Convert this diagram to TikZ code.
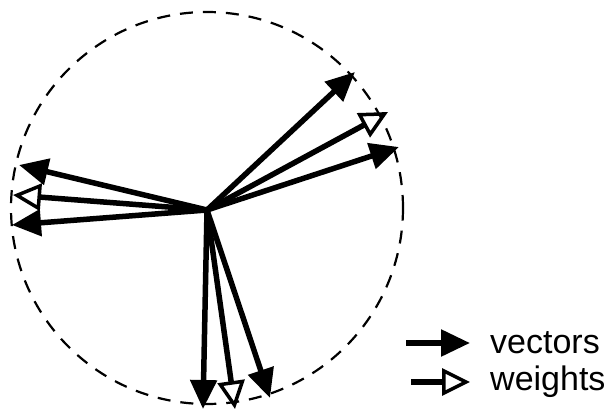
\documentclass[tikz,border=0pt]{standalone}
\usepackage{fontspec}
\setmainfont{Liberation Sans}
\usepackage{tikz}
\usetikzlibrary{
  positioning,
  arrows.meta
}
\definecolor{arrowcolor}{RGB}{0,0,0}
\tikzset{
  vecarrow/.style={
    -{Triangle[length=29pt, width=26pt]}, line width=5.5pt, draw=arrowcolor
  },
  wtarrow/.style={
    -{Triangle[open, length=28pt, width=27pt, line width=3.5pt]}, line width=5.5pt, draw=arrowcolor
  },
  ringnode/.style={
    circle, draw=black, line width=2.2pt, dash pattern=on 13pt off 10pt,
    minimum size=392pt, inner sep=0pt
  },
  legendtext/.style={
    font=\fontsize{34}{40}\selectfont, anchor=west, inner sep=0pt
  }
}

\begin{document}
\begin{tikzpicture}[x=1pt, y=-1pt]
  \useasboundingbox (0,0) rectangle (611,415);
  \node[ringnode] (ring) at (207,208) {};
  \coordinate (o) at (207,210);
  % upper right bundle
  \coordinate (va) at (355,72);
  \coordinate (wa) at (388,112);
  \coordinate (vb) at (399,147);
  % left bundle
  \coordinate (vc) at (19,165);
  \coordinate (wb) at (13,195);
  \coordinate (vd) at (12,225);
  % lower bundle
  \coordinate (ve) at (203,409);
  \coordinate (wc) at (235,409);
  \coordinate (vf) at (270,398);
  \draw[vecarrow] (o) -- (va);
  \draw[wtarrow] (o) -- (wa);
  \draw[vecarrow] (o) -- (vb);
  \draw[vecarrow] (o) -- (vc);
  \draw[wtarrow] (o) -- (wb);
  \draw[vecarrow] (o) -- (vd);
  \draw[vecarrow] (o) -- (ve);
  \draw[wtarrow] (o) -- (wc);
  \draw[vecarrow] (o) -- (vf);
  % legend
  \node[legendtext] (vtext) at (490,343) {vectors};
  \node[legendtext] (wtext) at (490,382) {weights};
  \coordinate (vstart) at (406,343);
  \coordinate (vend) at (470,343);
  \coordinate (wstart) at (411,382);
  \coordinate (wend) at (470,382);
  \draw[vecarrow] (vstart) -- (vend);
  \draw[wtarrow] (wstart) -- (wend);
\end{tikzpicture}
\end{document}
